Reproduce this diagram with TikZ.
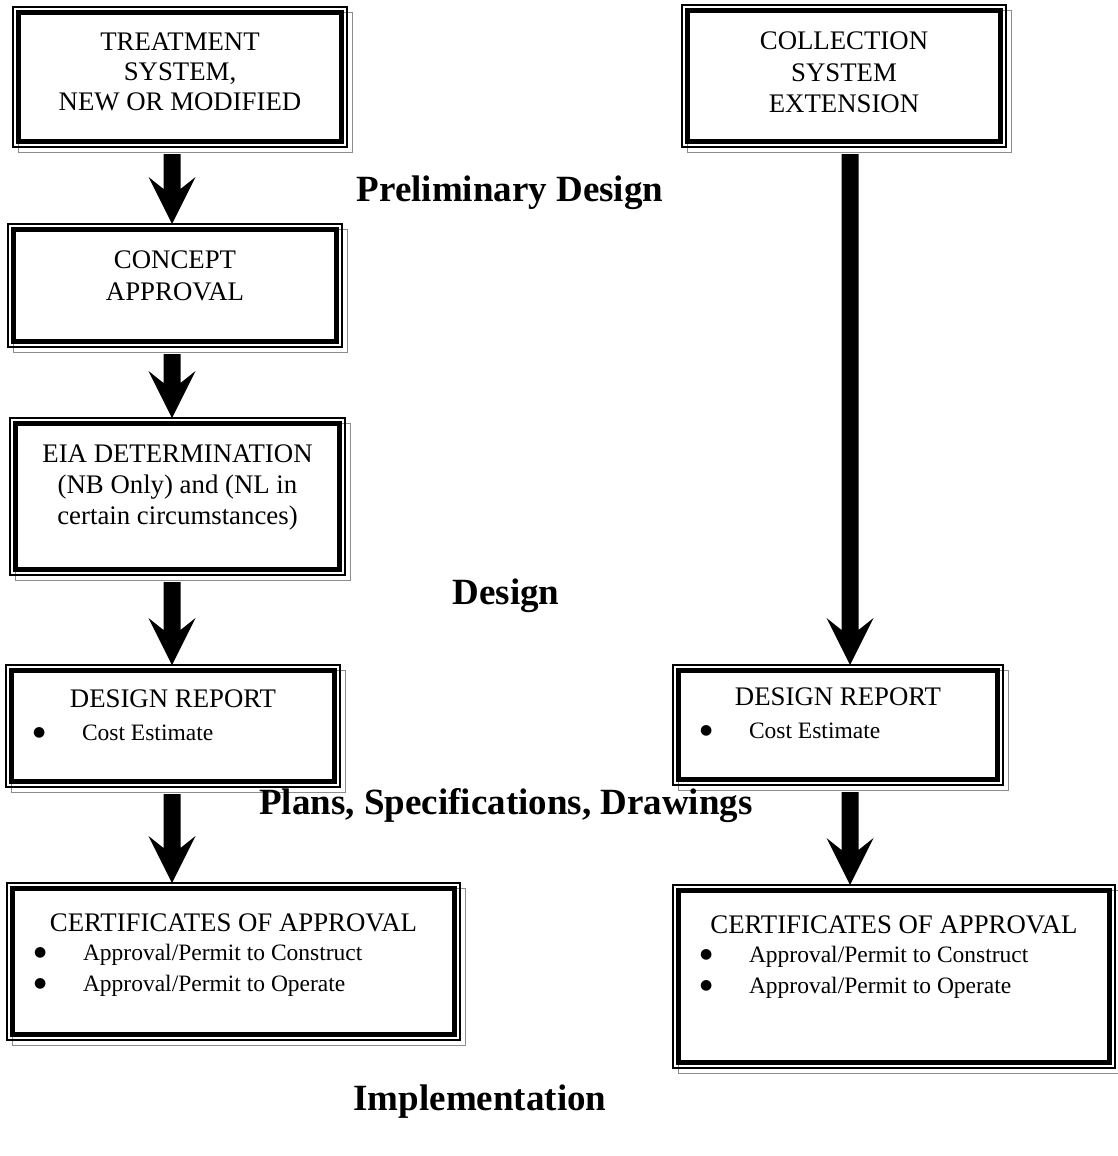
\documentclass[tikz,border=0pt]{standalone}
\usepackage{fontspec}
\setmainfont{Liberation Serif}
\newfontfamily\symfont{DejaVu Sans}
\usetikzlibrary{calc}
\pgfdeclarelayer{background}
\pgfsetlayers{background,main}
\definecolor{shadowgray}{RGB}{140,140,140}
\newcommand\bodyfont{\fontsize{26.8}{30}\selectfont}
\newcommand\phasefont{\fontsize{37}{40}\selectfont\bfseries}
\newcommand\bxtext[3]{\parbox[c][#2pt][t]{#1pt}{#3}}
\newcommand\frm[1]{%
  \begin{pgfonlayer}{background}
    \draw[shadowline] ([shift={(5.5,5.5)}]#1.north west) rectangle ([shift={(5.5,5.5)}]#1.south east);
  \end{pgfonlayer}
  \draw[thickframe] ([shift={(5.5,5.5)}]#1.north west) rectangle ([shift={(-5.5,-5.5)}]#1.south east);}
\newcommand\fatarrow[3]{%
  \fill let \p1=(#1), \p2=(#2) in
    (#3pt-8.5pt,\y1-7pt) -- (#3pt-8.5pt,\y2+35pt) -- (#3pt-23.5pt,\y2+47pt) -- (#3pt,\y2)
    -- (#3pt+23.5pt,\y2+47pt) -- (#3pt+8.5pt,\y2+35pt) -- (#3pt+8.5pt,\y1-7pt) -- cycle;}
\newcommand\bigbullet{\raisebox{3.5pt}{\symfont\fontsize{14}{14}\selectfont ●}}
\newcommand\blt[1]{\noindent\hspace*{27pt}\makebox[49pt][l]{\bigbullet}#1\par}
\tikzset{
  boxnode/.style={draw, line width=1.6pt, inner sep=0pt, outer sep=0pt, anchor=north west},
  thickframe/.style={line width=5.3pt},
  shadowline/.style={draw=shadowgray, line width=1.6pt},
  phase/.style={font=\phasefont, inner sep=0pt},
}
\begin{document}
\begin{tikzpicture}[x=1pt,y=-1pt]
\begin{pgfonlayer}{background}
  \fill[white] (0,0) rectangle (1117,1156);
\end{pgfonlayer}
\useasboundingbox (0,0) rectangle (1117,1156);

% left column
\node[boxnode] (b1) at (13,7) {\bxtext{334}{140}{\centering\bodyfont\rule{0pt}{43.5pt}TREATMENT\\SYSTEM,\\NEW OR MODIFIED}};
\frm{b1}
\node[boxnode] (b2) at (8,224) {\bxtext{334}{123}{\centering\fontsize{26.8}{32}\selectfont\rule{0pt}{44pt}CONCEPT\\APPROVAL}};
\frm{b2}
\node[boxnode] (b3) at (10,418) {\bxtext{335}{157}{\centering\fontsize{26.8}{31}\selectfont\rule{0pt}{44pt}EIA DETERMINATION\\(NB Only) and (NL in\\certain circumstances)}};
\frm{b3}
\node[boxnode] (b4) at (6,665) {\bxtext{334}{122}{\bodyfont\noindent\makebox[\linewidth][c]{\rule{0pt}{42pt}DESIGN REPORT}\par
  \fontsize{23.5}{33}\selectfont\blt{Cost Estimate}}};
\frm{b4}
\node[boxnode] (b5) at (7,883) {\bxtext{453}{157}{\bodyfont\noindent\makebox[\linewidth][c]{\rule{0pt}{48pt}CERTIFICATES OF APPROVAL}\par
  \fontsize{23.5}{29}\selectfont\blt{Approval/Permit to Construct}
  \fontsize{23.5}{31}\selectfont\blt{Approval/Permit to Operate}}};
\frm{b5}

% right column
\node[boxnode] (b6) at (682,5) {\bxtext{324}{142}{\centering\fontsize{26.8}{31}\selectfont\rule{0pt}{45pt}COLLECTION\\SYSTEM\\EXTENSION}};
\frm{b6}
\node[boxnode] (b7) at (673,665) {\bxtext{330}{120}{\bodyfont\noindent\makebox[\linewidth][c]{\rule{0pt}{40pt}DESIGN REPORT}\par
  \fontsize{23.5}{33}\selectfont\blt{Cost Estimate}}};
\frm{b7}
\node[boxnode] (b8) at (673,885) {\bxtext{442}{183}{\bodyfont\noindent\makebox[\linewidth][c]{\rule{0pt}{48pt}CERTIFICATES OF APPROVAL}\par
  \fontsize{23.5}{29}\selectfont\blt{Approval/Permit to Construct}
  \fontsize{23.5}{31}\selectfont\blt{Approval/Permit to Operate}}};
\frm{b8}

% arrows
\fatarrow{b1.south}{b2.north}{172}
\fatarrow{b2.south}{b3.north}{172}
\fatarrow{b3.south}{b4.north}{172}
\fatarrow{b4.south}{b5.north}{172}
\fatarrow{b6.south}{b7.north}{850}
\fatarrow{b7.south}{b8.north}{850}

% phase labels
\node[phase] (pd) at (510,193) {Preliminary Design};
\node[phase] (dz) at (506,596) {Design};
\node[phase] (ps) at (506,806) {Plans, Specifications, Drawings};
\node[phase] (im) at (480,1102) {Implementation};
\end{tikzpicture}
\end{document}
